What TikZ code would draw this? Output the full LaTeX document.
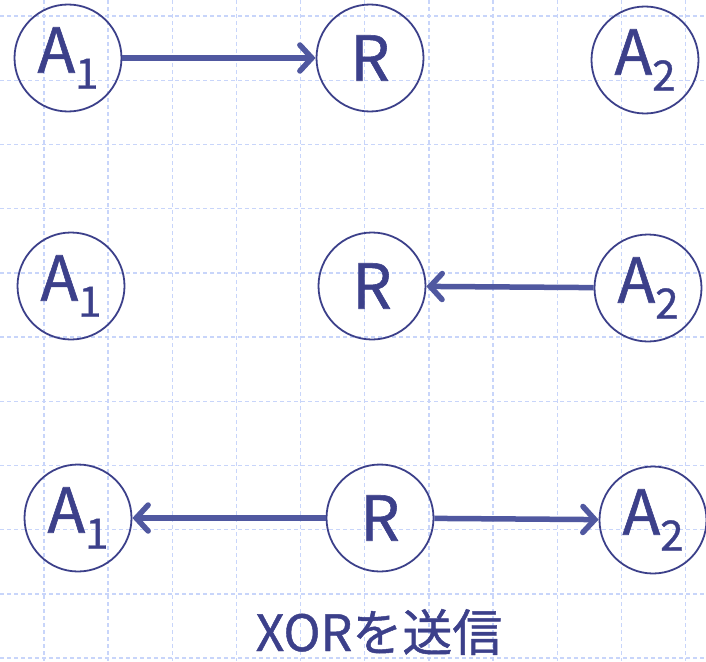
\documentclass[tikz,border=0pt]{standalone}
\usepackage{fontspec}
\setmainfont{Noto Sans CJK JP}[FakeBold=0.9, AutoFakeBold=0.9]
\usepackage{xcolor}
\usetikzlibrary{arrows.meta}
\definecolor{nodeblue}{RGB}{60,64,138}
\definecolor{arrowblue}{RGB}{80,88,160}
\definecolor{gridblue}{RGB}{200,213,250}
% subscript set lower and smaller than the letter
\newcommand{\idx}[1]{\raisebox{-16pt}{\fontsize{42}{42}\selectfont #1}}

\begin{document}
\begin{tikzpicture}[x=1pt, y=-1pt,
  agent/.style={circle, draw=nodeblue, line width=1.8pt, minimum size=107pt, inner sep=0pt,
    text=nodeblue, font=\fontsize{62}{62}\bfseries},
  arr/.style={-{Straight Barb[length=12pt, width=26pt, line cap=round]}, arrowblue, line width=5.5pt},
  gline/.style={gridblue, line width=1.4pt, dash pattern=on 4pt off 3pt}]
\useasboundingbox (0,0) rectangle (706,661);
% background grid
\foreach \i in {0,...,10} {
  \draw[gline] ({44+64.15*\i},0) -- ({44+64.15*\i},661);
  \draw[gline] (0,{16+64.2*\i}) -- (706,{16+64.2*\i});
}
% A1 sends to R
\node[agent] (a1a) at (68,58) {A\idx{1}};
\node[agent] (ra) at (370,58) {R};
\node[agent] (a2a) at (645,60) {A\idx{2}};
\draw[arr] (a1a) -- (ra);
% A2 sends to R
\node[agent] (a1b) at (71,286) {A\idx{1}};
\node[agent] (rb) at (372,286) {R};
\node[agent] (a2b) at (648,288) {A\idx{2}};
\draw[arr] (a2b) -- (rb);
% R broadcasts
\node[agent] (a1c) at (78,518) {A\idx{1}};
\node[agent] (rc) at (380,518) {R};
\node[agent] (a2c) at (653,520) {A\idx{2}};
\draw[arr] (rc) -- (a1c);
\draw[arr] (rc) -- (a2c);
\node[text=nodeblue, font=\fontsize{50}{50}\bfseries] (xor) at (379,632) {XORを送信};
\end{tikzpicture}
\end{document}
